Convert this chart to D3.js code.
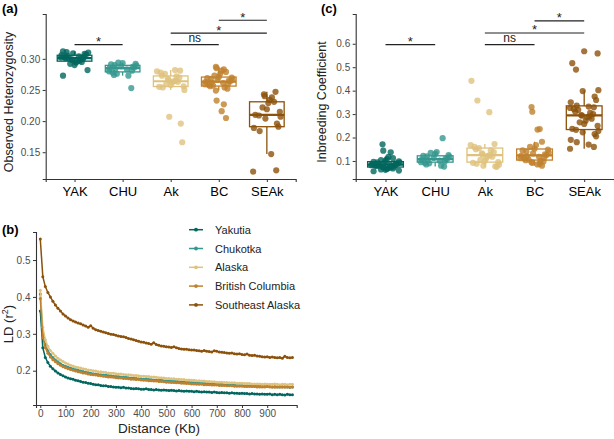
<!DOCTYPE html>
<html>
<head>
<meta charset="utf-8">
<script src="https://cdn.jsdelivr.net/npm/d3@7"></script>
<style>
  body { margin: 0; background: #fff; }
  svg text { font-family: "Liberation Sans", Arial, sans-serif; }
  .axis .domain { stroke: #333; stroke-width: 1.1; }
  .axis .tick line { stroke: #333; }
  .axis .tick text { fill: #4d4d4d; font-size: 10px; }
  .catAxis .tick text { fill: #000; font-size: 13px; }
</style>
</head>
<body>
<div id="chart"></div>
<script>
// Populations and colours (BrBG)
var populations = ["YAK", "CHU", "Ak", "BC", "SEAk"];
var popColors = ["#01665e", "#35978f", "#dfc27d", "#bf812d", "#8c510a"];

// (a) Observed heterozygosity per individual
var hetYAK = [0.273, 0.282, 0.290, 0.292, 0.294, 0.295, 0.296, 0.297, 0.298, 0.299, 0.300, 0.300, 0.301,
              0.301, 0.302, 0.302, 0.303, 0.304, 0.305, 0.306, 0.307, 0.308, 0.309, 0.310, 0.311, 0.312];
var hetCHU = [0.253, 0.273, 0.274, 0.276, 0.278, 0.280, 0.281, 0.283, 0.284, 0.285, 0.286, 0.287, 0.288,
              0.289, 0.290, 0.291, 0.292, 0.293, 0.294];
var hetAk = [0.166, 0.196, 0.207, 0.250, 0.254, 0.255, 0.256, 0.258, 0.260, 0.262, 0.263, 0.264, 0.265,
             0.266, 0.268, 0.270, 0.272, 0.273, 0.276, 0.278, 0.280, 0.281, 0.282];
var hetBC = [0.205, 0.216, 0.227, 0.233, 0.249, 0.252, 0.254, 0.256, 0.257, 0.258, 0.259, 0.260, 0.261,
             0.262, 0.263, 0.264, 0.265, 0.266, 0.267, 0.268, 0.269, 0.270, 0.271, 0.273, 0.276, 0.279,
             0.281, 0.283, 0.285, 0.287];
var hetSEAk = [0.119, 0.121, 0.147, 0.184, 0.189, 0.191, 0.196, 0.204, 0.207, 0.209, 0.210, 0.215, 0.219,
               0.222, 0.229, 0.231, 0.234, 0.238, 0.240, 0.243, 0.247];

// (c) Inbreeding coefficient per individual
var fisYAK = [0.056, 0.059, 0.062, 0.064, 0.066, 0.068, 0.070, 0.072, 0.073, 0.075, 0.076, 0.078, 0.079,
              0.080, 0.081, 0.082, 0.083, 0.084, 0.085, 0.087, 0.088, 0.090, 0.091, 0.093, 0.094, 0.096,
              0.098, 0.100, 0.104, 0.108, 0.112, 0.118, 0.137, 0.144, 0.171];
var fisCHU = [0.076, 0.080, 0.085, 0.090, 0.092, 0.095, 0.098, 0.101, 0.104, 0.106, 0.108, 0.110, 0.113,
              0.117, 0.120, 0.122, 0.125, 0.130, 0.135, 0.138, 0.197];
var fisAk = [0.075, 0.077, 0.080, 0.084, 0.088, 0.092, 0.095, 0.100, 0.105, 0.112, 0.118, 0.122, 0.125,
             0.128, 0.132, 0.138, 0.145, 0.150, 0.155, 0.160, 0.168, 0.172, 0.308, 0.358, 0.442];
var fisBC = [0.080, 0.085, 0.088, 0.092, 0.095, 0.098, 0.100, 0.103, 0.106, 0.110, 0.112, 0.115, 0.118,
             0.120, 0.122, 0.125, 0.128, 0.132, 0.136, 0.140, 0.145, 0.148, 0.152, 0.160, 0.168, 0.182,
             0.234, 0.236, 0.310, 0.330];
var fisSEAk = [0.152, 0.160, 0.170, 0.180, 0.190, 0.205, 0.215, 0.222, 0.228, 0.233, 0.237, 0.250, 0.258,
               0.265, 0.272, 0.280, 0.286, 0.290, 0.293, 0.296, 0.300, 0.305, 0.310, 0.318, 0.322, 0.326,
               0.329, 0.332, 0.336, 0.350, 0.360, 0.375, 0.398, 0.402, 0.490, 0.517, 0.559, 0.568];

// Significance brackets: [from, to, label, height in data units]
var hetBrackets = [["YAK", "CHU", "*", 0.3228], ["Ak", "BC", "ns", 0.3228],
                   ["Ak", "SEAk", "*", 0.3412], ["BC", "SEAk", "*", 0.3620]];
var fisBrackets = [["YAK", "CHU", "*", 0.596], ["Ak", "BC", "ns", 0.596],
                   ["Ak", "SEAk", "*", 0.646], ["BC", "SEAk", "*", 0.698]];

// (b) LD decay, distance in Kb
var ldDistance = [0, 10, 20, 30, 40, 50, 60, 70, 80, 90, 100, 110, 120, 130, 140, 150, 160, 170, 180, 190,
  200, 210, 220, 230, 240, 250, 260, 270, 280, 290, 300, 310, 320, 330, 340, 350, 360, 370, 380, 390,
  400, 410, 420, 430, 440, 450, 460, 470, 480, 490, 500, 510, 520, 530, 540, 550, 560, 570, 580, 590,
  600, 610, 620, 630, 640, 650, 660, 670, 680, 690, 700, 710, 720, 730, 740, 750, 760, 770, 780, 790,
  800, 810, 820, 830, 840, 850, 860, 870, 880, 890, 900, 910, 920, 930, 940, 950, 960, 970, 980, 990, 1000];
var ldTicks = [0, 100, 200, 300, 400, 500, 600, 700, 800, 900];
var ldNames = ["Yakutia", "Chukotka", "Alaska", "British Columbia", "Southeast Alaska"];
var ldYakutia = [0.362, 0.262, 0.236, 0.222, 0.212, 0.205, 0.199, 0.194, 0.190, 0.186,
  0.183, 0.180, 0.178, 0.177, 0.174, 0.173, 0.171, 0.169, 0.168, 0.166,
  0.165, 0.163, 0.162, 0.162, 0.160, 0.159, 0.159, 0.157, 0.157, 0.156,
  0.155, 0.155, 0.154, 0.155, 0.153, 0.153, 0.152, 0.151, 0.152, 0.151,
  0.150, 0.150, 0.151, 0.149, 0.149, 0.148, 0.149, 0.148, 0.147, 0.148,
  0.147, 0.146, 0.147, 0.146, 0.145, 0.146, 0.145, 0.144, 0.145, 0.144,
  0.144, 0.143, 0.144, 0.143, 0.142, 0.143, 0.142, 0.142, 0.141, 0.142,
  0.141, 0.140, 0.141, 0.140, 0.140, 0.139, 0.140, 0.139, 0.139, 0.138,
  0.139, 0.138, 0.138, 0.137, 0.138, 0.137, 0.137, 0.136, 0.137, 0.136,
  0.136, 0.137, 0.135, 0.136, 0.135, 0.136, 0.135, 0.134, 0.136, 0.135, 0.135];
var ldChukotka = [0.408, 0.300, 0.270, 0.254, 0.244, 0.236, 0.229, 0.224, 0.219, 0.215,
  0.212, 0.210, 0.207, 0.205, 0.203, 0.201, 0.200, 0.198, 0.196, 0.195,
  0.193, 0.192, 0.191, 0.190, 0.189, 0.188, 0.188, 0.187, 0.186, 0.185,
  0.184, 0.184, 0.183, 0.182, 0.183, 0.181, 0.180, 0.180, 0.179, 0.178,
  0.178, 0.177, 0.178, 0.176, 0.176, 0.175, 0.175, 0.174, 0.175, 0.173,
  0.173, 0.172, 0.172, 0.171, 0.172, 0.170, 0.170, 0.169, 0.169, 0.168,
  0.168, 0.167, 0.168, 0.166, 0.166, 0.165, 0.166, 0.165, 0.164, 0.164,
  0.163, 0.163, 0.164, 0.162, 0.162, 0.161, 0.162, 0.161, 0.160, 0.160,
  0.160, 0.159, 0.159, 0.159, 0.158, 0.158, 0.159, 0.158, 0.157, 0.157,
  0.157, 0.157, 0.156, 0.157, 0.156, 0.156, 0.157, 0.156, 0.156, 0.155, 0.156];
var ldAlaska = [0.418, 0.318, 0.284, 0.266, 0.255, 0.247, 0.240, 0.234, 0.229, 0.225,
  0.221, 0.218, 0.215, 0.213, 0.210, 0.209, 0.207, 0.205, 0.204, 0.202,
  0.201, 0.200, 0.199, 0.197, 0.197, 0.196, 0.195, 0.194, 0.193, 0.193,
  0.192, 0.191, 0.191, 0.190, 0.189, 0.189, 0.188, 0.187, 0.187, 0.186,
  0.185, 0.185, 0.184, 0.184, 0.183, 0.183, 0.182, 0.181, 0.181, 0.180,
  0.179, 0.179, 0.178, 0.178, 0.177, 0.177, 0.176, 0.176, 0.175, 0.175,
  0.174, 0.174, 0.173, 0.173, 0.172, 0.172, 0.171, 0.171, 0.170, 0.170,
  0.169, 0.169, 0.169, 0.168, 0.168, 0.167, 0.167, 0.167, 0.166, 0.166,
  0.166, 0.165, 0.165, 0.165, 0.164, 0.164, 0.164, 0.164, 0.163, 0.164,
  0.163, 0.163, 0.163, 0.164, 0.163, 0.162, 0.163, 0.163, 0.162, 0.163, 0.163];
var ldBC = [0.396, 0.290, 0.262, 0.247, 0.237, 0.230, 0.224, 0.219, 0.215, 0.211,
  0.208, 0.205, 0.203, 0.201, 0.199, 0.197, 0.196, 0.194, 0.193, 0.191,
  0.190, 0.189, 0.188, 0.187, 0.186, 0.185, 0.184, 0.183, 0.183, 0.182,
  0.181, 0.180, 0.180, 0.179, 0.179, 0.178, 0.177, 0.177, 0.176, 0.176,
  0.175, 0.174, 0.174, 0.173, 0.173, 0.172, 0.172, 0.171, 0.171, 0.170,
  0.169, 0.169, 0.168, 0.168, 0.167, 0.167, 0.166, 0.166, 0.165, 0.165,
  0.164, 0.164, 0.163, 0.163, 0.163, 0.162, 0.162, 0.162, 0.161, 0.161,
  0.161, 0.160, 0.160, 0.160, 0.159, 0.159, 0.159, 0.158, 0.158, 0.158,
  0.158, 0.157, 0.157, 0.157, 0.157, 0.157, 0.156, 0.156, 0.156, 0.156,
  0.157, 0.156, 0.156, 0.155, 0.156, 0.156, 0.155, 0.156, 0.156, 0.155, 0.156];
var ldSEAk = [0.557, 0.455, 0.428, 0.412, 0.400, 0.388, 0.378, 0.369, 0.362, 0.354,
  0.348, 0.343, 0.338, 0.335, 0.332, 0.329, 0.327, 0.324, 0.321, 0.318,
  0.322, 0.315, 0.311, 0.309, 0.307, 0.305, 0.303, 0.301, 0.299, 0.298,
  0.296, 0.294, 0.293, 0.292, 0.290, 0.287, 0.286, 0.284, 0.282, 0.280,
  0.278, 0.277, 0.275, 0.274, 0.272, 0.276, 0.271, 0.269, 0.267, 0.266,
  0.265, 0.264, 0.263, 0.265, 0.262, 0.260, 0.259, 0.258, 0.258, 0.257,
  0.256, 0.256, 0.255, 0.254, 0.253, 0.255, 0.253, 0.252, 0.251, 0.254,
  0.253, 0.251, 0.250, 0.249, 0.248, 0.247, 0.248, 0.246, 0.245, 0.246,
  0.244, 0.243, 0.245, 0.242, 0.241, 0.242, 0.240, 0.239, 0.238, 0.237,
  0.238, 0.236, 0.237, 0.236, 0.235, 0.236, 0.234, 0.239, 0.236, 0.235, 0.236];

// Fixed jitter pattern (fraction of half jitter width), only used for point placement
var jitterPattern = [-0.8, 0.3, -0.2, 0.9, -0.5, 0.6, 0.0, -0.9, 0.4, -0.3, 0.8, -0.6, 0.1, 0.7,
                     -0.4, 0.5, -0.1, -0.7, 0.2, 0.95, -0.95, 0.35, -0.55, 0.65, -0.15];

// SVG size
var svgWidth = 614;
var svgHeight = 439;

var svg = d3.select("#chart")
  .append("svg")
  .attr("width", svgWidth)
  .attr("height", svgHeight);

// Box + jitter panel
function drawBoxPanel(opts) {
  var g = svg.append("g");

  var xScale = d3.scalePoint()
    .domain(populations)
    .range(opts.xRange)
    .padding(0.6);
  var step = xScale.step();

  var yScale = d3.scaleLinear()
    .domain(opts.yDomain)
    .range([179, 14]);

  // axes
  g.append("g")
    .attr("class", "axis catAxis")
    .attr("transform", "translate(0,179)")
    .call(d3.axisBottom(xScale).tickSizeOuter(0).tickSize(3).tickPadding(5));

  g.append("g")
    .attr("class", "axis")
    .attr("transform", `translate(${opts.xRange[0]},0)`)
    .call(d3.axisLeft(yScale).tickValues(opts.ticks).tickFormat(d3.format(opts.fmt))
      .tickSizeOuter(0).tickSize(3).tickPadding(2.5));

  // boxes and points
  populations.forEach(function(p, i) {
    var vals = opts.data[i].slice().sort(d3.ascending);
    var q1 = d3.quantile(vals, 0.25);
    var med = d3.quantile(vals, 0.5);
    var q3 = d3.quantile(vals, 0.75);
    var iqr = q3 - q1;
    var lo = d3.min(vals.filter(v => v >= q1 - 1.5 * iqr));
    var hi = d3.max(vals.filter(v => v <= q3 + 1.5 * iqr));
    var cx = xScale(p);
    var bw = step * 0.72;
    var col = popColors[i];

    var bg = g.append("g");
    bg.append("line")
      .attr("x1", cx).attr("x2", cx)
      .attr("y1", yScale(q3)).attr("y2", yScale(hi))
      .attr("stroke", col).attr("stroke-width", 1.3);
    bg.append("line")
      .attr("x1", cx).attr("x2", cx)
      .attr("y1", yScale(q1)).attr("y2", yScale(lo))
      .attr("stroke", col).attr("stroke-width", 1.3);
    bg.append("rect")
      .attr("x", cx - bw / 2).attr("width", bw)
      .attr("y", yScale(q3)).attr("height", yScale(q1) - yScale(q3))
      .attr("fill", "none").attr("stroke", col).attr("stroke-width", 1.3);
    bg.append("line")
      .attr("x1", cx - bw / 2).attr("x2", cx + bw / 2)
      .attr("y1", yScale(med)).attr("y2", yScale(med))
      .attr("stroke", col).attr("stroke-width", 2.2);

    g.append("g").selectAll("circle")
      .data(opts.data[i])
      .enter()
      .append("circle")
      .attr("cx", (d, j) => cx + jitterPattern[(j * 3 + i * 5) % jitterPattern.length] * step * 0.3)
      .attr("cy", d => yScale(d))
      .attr("r", 3.1)
      .attr("fill", col)
      .attr("fill-opacity", 0.8);
  });

  // significance brackets
  opts.brackets.forEach(function(b) {
    var y = yScale(b[3]);
    g.append("line")
      .attr("x1", xScale(b[0])).attr("x2", xScale(b[1]))
      .attr("y1", y).attr("y2", y)
      .attr("stroke", "#222").attr("stroke-width", 1.2);
    g.append("text")
      .attr("x", (xScale(b[0]) + xScale(b[1])) / 2)
      .attr("y", b[2] === "ns" ? y - 2.5 : y + 1.5)
      .attr("text-anchor", "middle")
      .attr("font-size", b[2] === "ns" ? "12px" : "13px")
      .attr("fill", "#222")
      .text(b[2]);
  });

  // y label
  g.append("text")
    .attr("transform", `translate(${opts.labelX},102) rotate(-90)`)
    .attr("text-anchor", "middle")
    .attr("font-size", "12.5px")
    .attr("fill", "#222")
    .text(opts.yLabel);

  // panel tag
  g.append("text")
    .attr("x", opts.tagX).attr("y", 13)
    .attr("font-size", "13px").attr("font-weight", "bold")
    .text(opts.tag);
}

drawBoxPanel({
  xRange: [45.7, 295.7], yDomain: [0.107, 0.372],
  ticks: [0.15, 0.20, 0.25, 0.30], fmt: ".2f",
  data: [hetYAK, hetCHU, hetAk, hetBC, hetSEAk],
  brackets: hetBrackets, yLabel: "Observed Heterozygosity", labelX: 13, tag: "(a)", tagX: 2
});

drawBoxPanel({
  xRange: [355.7, 614], yDomain: [0.023, 0.727],
  ticks: [0.1, 0.2, 0.3, 0.4, 0.5, 0.6], fmt: ".1f",
  data: [fisYAK, fisCHU, fisAk, fisBC, fisSEAk],
  brackets: fisBrackets, yLabel: "Inbreeding Coefficient", labelX: 326, tag: "(c)", tagX: 321
});

// (b) LD decay panel
var ldSeries = [ldYakutia, ldChukotka, ldAlaska, ldBC, ldSEAk];
var ldGroup = svg.append("g");

var xLD = d3.scaleLinear().domain([-17, 1017]).range([36, 296.7]);
var yLD = d3.scaleLinear().domain([0.107, 0.576]).range([405, 232]);

ldGroup.append("g")
  .attr("class", "axis")
  .attr("transform", "translate(0,405)")
  .call(d3.axisBottom(xLD).tickValues(ldTicks).tickSizeOuter(0).tickSize(3).tickPadding(1.5));

ldGroup.append("g")
  .attr("class", "axis")
  .attr("transform", "translate(36,0)")
  .call(d3.axisLeft(yLD).tickValues([0.2, 0.3, 0.4, 0.5]).tickFormat(d3.format(".1f"))
    .tickSizeOuter(0).tickSize(3).tickPadding(2.5));

var ldLine = d3.line()
  .x((d, i) => xLD(ldDistance[i]))
  .y(d => yLD(d));

ldSeries.forEach(function(s, k) {
  ldGroup.append("path")
    .attr("d", ldLine(s))
    .attr("fill", "none")
    .attr("stroke", popColors[k])
    .attr("stroke-width", 1.5);
  ldGroup.append("g").selectAll("circle")
    .data(s)
    .enter()
    .append("circle")
    .attr("cx", (d, i) => xLD(ldDistance[i]))
    .attr("cy", d => yLD(d))
    .attr("r", 1.5)
    .attr("fill", popColors[k]);
});

// legend
ldNames.forEach(function(n, k) {
  var ly = 229.7 + k * 18.8;
  ldGroup.append("line")
    .attr("x1", 189).attr("x2", 203).attr("y1", ly).attr("y2", ly)
    .attr("stroke", popColors[k]).attr("stroke-width", 1.5);
  ldGroup.append("circle")
    .attr("cx", 196).attr("cy", ly).attr("r", 1.9).attr("fill", popColors[k]);
  ldGroup.append("text")
    .attr("x", 215).attr("y", ly + 4)
    .attr("font-size", "11px").attr("fill", "#222")
    .text(n);
});

// axis labels
ldGroup.append("text")
  .attr("x", 159).attr("y", 433)
  .attr("text-anchor", "middle")
  .attr("font-size", "13.5px").attr("fill", "#222")
  .text("Distance (Kb)");

var ldY = ldGroup.append("text")
  .attr("transform", "translate(12.5,324) rotate(-90)")
  .attr("text-anchor", "middle")
  .attr("font-size", "13px").attr("fill", "#222");
ldY.append("tspan").text("LD (r");
ldY.append("tspan").attr("baseline-shift", "super").attr("font-size", "9px").text("2");
ldY.append("tspan").text(")");

ldGroup.append("text")
  .attr("x", 2).attr("y", 234)
  .attr("font-size", "13px").attr("font-weight", "bold")
  .text("(b)");
</script>
</body>
</html>
